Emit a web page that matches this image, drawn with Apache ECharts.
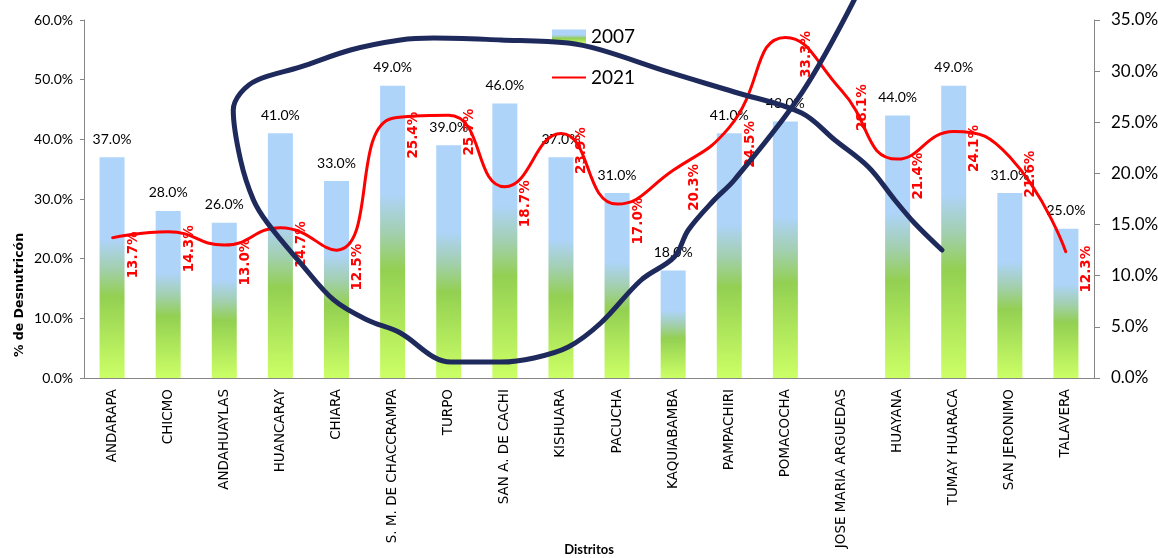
<!DOCTYPE html>
<html>
<head>
<meta charset="utf-8">
<script src="https://cdn.jsdelivr.net/npm/echarts@6/dist/echarts.min.js"></script>
<style>
html,body{margin:0;padding:0;background:#fff;}
#chart{width:1158px;height:558px;}
</style>
</head>
<body>
<div id="chart"></div>
<script>
const categories = ['ANDARAPA','CHICMO','ANDAHUAYLAS','HUANCARAY','CHIARA','S. M. DE CHACCRAMPA','TURPO','SAN A. DE CACHI','KISHUARA','PACUCHA','KAQUIABAMBA','PAMPACHIRI','POMACOCHA','JOSE MARIA ARGUEDAS','HUAYANA','TUMAY HUARACA','SAN JERONIMO','TALAVERA'];
const values2007 = [37.0,28.0,26.0,41.0,33.0,49.0,39.0,46.0,37.0,31.0,18.0,41.0,43.0,null,44.0,49.0,31.0,25.0];
const values2021 = [13.7,14.3,13.0,14.7,12.5,25.4,25.7,18.7,23.9,17.0,20.3,24.5,33.3,28.1,21.4,24.1,21.6,12.3];
const leftAxisMax = 60, leftAxisStep = 10;
const rightAxisMax = 35, rightAxisStep = 5;
// hand-drawn annotation loop: x = category position (index), y = right-axis %
const loopX = [13.23,12.29,11.09,10.73,10.27,10.02,9.43,8.71,8.13,7.52,6.93,6.04,5.73,5.14,4.55,3.95,3.36,2.77,2.52,2.29,2.16,2.29,2.59,3.36,4.25,5.14,5.73,6.93,8.13,8.71,9.91,11.09,12.29,12.88,13.48,13.95,14.30,14.79];
const loopY = [37.0,27.86,19.36,17.40,14.47,11.83,9.58,5.38,3.03,1.96,1.56,1.56,2.05,4.40,5.67,7.63,11.24,15.15,17.40,21.31,26.20,27.86,29.14,30.41,32.07,33.05,33.24,33.05,32.75,32.07,29.92,27.96,25.91,23.27,20.63,17.40,15.15,12.51];

const pct = v => Number(v).toFixed(1) + '%';
const barGradient = new echarts.graphic.LinearGradient(0, 0, 0, 1, [
  {offset: 0, color: '#AED4FA'},
  {offset: 0.37, color: '#AED4FA'},
  {offset: 0.5, color: '#A3CFB2'},
  {offset: 0.63, color: '#93D052'},
  {offset: 1, color: '#CCFF66'}
]);

const chart = echarts.init(document.getElementById('chart'), null, {renderer: 'canvas'});
chart.setOption({
  animation: false,
  backgroundColor: '#ffffff',
  grid: {left: 84, right: 64, top: 20, bottom: 180, containLabel: false, outerBoundsMode: 'none'},
  legend: {
    orient: 'vertical', left: 546, top: 22, itemWidth: 34, itemHeight: 14, itemGap: 22,
    textStyle: {fontFamily: 'Lato', fontSize: 19, color: '#000'},
    data: [{name: '2007', icon: 'rect'}, {name: '2021', itemStyle: {opacity: 0}}]
  },
  graphic: [{
    type: 'text', x: 20, y: 295, rotation: Math.PI / 2,
    style: {text: '% de Desnutricón', fontFamily: 'DejaVu Sans', fontWeight: 'bold', fontSize: 12.5, fill: '#000', align: 'center', verticalAlign: 'middle'}
  }],
  xAxis: [{
    type: 'category', data: categories,
    name: 'Distritos', nameLocation: 'middle', nameGap: 165, nameMoveOverlap: false,
    nameTextStyle: {fontFamily: 'Lato', fontWeight: 'bold', fontSize: 13, color: '#000'},
    axisLine: {onZero: false, lineStyle: {color: '#868686', width: 1}},
    axisTick: {show: false},
    axisLabel: {interval: 0, rotate: 90, margin: 11, fontFamily: 'DejaVu Sans', fontSize: 13.5, color: '#000'}
  }, {
    type: 'value', min: -0.5, max: 17.5, show: false
  }],
  yAxis: [{
    type: 'value', min: 0, max: leftAxisMax, interval: leftAxisStep, position: 'left',
    axisLine: {show: true, onZero: false, lineStyle: {color: '#868686'}},
    axisTick: {show: true, length: 4, lineStyle: {color: '#868686'}},
    splitLine: {show: false},
    axisLabel: {formatter: pct, margin: 11, fontFamily: 'Lato', fontSize: 14, color: '#000'}
  }, {
    type: 'value', min: 0, max: rightAxisMax, interval: rightAxisStep, position: 'right',
    axisLine: {show: true, onZero: false, lineStyle: {color: '#868686'}},
    axisTick: {show: true, length: 6, lineStyle: {color: '#868686'}},
    splitLine: {show: false},
    axisLabel: {formatter: pct, margin: 17, fontFamily: 'Lato', fontSize: 17, color: '#000'}
  }],
  series: [{
    name: '2007', type: 'bar', data: values2007, barWidth: 25,
    itemStyle: {color: barGradient},
    label: {show: true, position: 'top', distance: 11, formatter: p => pct(p.value), fontFamily: 'Lato', fontSize: 14, color: '#000'},
    z: 2
  }, {
    name: '2021', type: 'line', yAxisIndex: 1, data: values2021, smooth: 0.5,
    symbol: 'circle', symbolSize: 2, showSymbol: true,
    itemStyle: {color: '#FF0000'},
    lineStyle: {color: '#FF0000', width: 3},
    label: {show: true, position: 'inside', rotate: 90, offset: [-17, 21], formatter: p => pct(p.value),
      fontFamily: 'DejaVu Sans', fontWeight: 'bold', fontSize: 13.5, color: '#FF0000', align: 'center', verticalAlign: 'middle'},
    z: 3
  }, {
    name: 'annotation', type: 'line', xAxisIndex: 1, yAxisIndex: 1,
    data: loopX.map((x, i) => [x, loopY[i]]),
    smooth: 0.35, symbol: 'none', showSymbol: false, clip: false,
    lineStyle: {color: '#1F2A5C', width: 5, cap: 'round', join: 'round'},
    z: 5, silent: true
  }]
});
</script>
</body>
</html>
